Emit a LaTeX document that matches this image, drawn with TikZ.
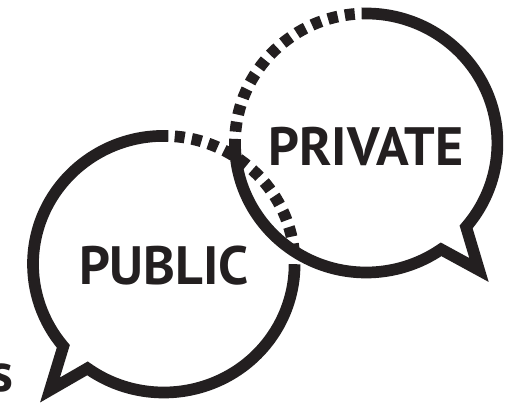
\documentclass[tikz,border=0pt]{standalone}
\usepackage{fontspec}
\setmainfont{PT Sans}
\definecolor{ink}{HTML}{231F20}
\tikzset{
  solidline/.style={draw=ink,line width=11.7pt,line join=miter,miter limit=20},
  dotline/.style={draw=ink,line width=11.7pt,dash pattern=on 10pt off 7.2pt},
  word/.style={text=ink,font=\fontsize{54}{54}\selectfont\bfseries,inner sep=0pt}
}
\begin{document}
\begin{tikzpicture}[x=1pt,y=1pt]
\useasboundingbox (0,0) rectangle (516,404);
\clip (0,0) rectangle (516,404);
\fill[white] (0,0) rectangle (516,404);
\coordinate (pc) at (163.8,139.8);
\coordinate (vc) at (366.2,261);
\coordinate (ptip) at (50,14);
\coordinate (vtip) at (479,134);
% public bubble
\draw[solidline] ([shift={(88:130.8 and 128.3)}]pc) arc[start angle=88,end angle=219.8,x radius=130.8,y radius=128.3]
  -- (ptip) -- ([shift={(234.3:130.8 and 128.3)}]pc) arc[start angle=234.3,end angle=360,x radius=130.8,y radius=128.3];
\draw[dotline] ([shift={(85.2:130.8 and 128.3)}]pc) arc[start angle=85.2,end angle=3,x radius=130.8,y radius=128.3];
% private bubble
\draw[solidline] ([shift={(180:131.2 and 129.5)}]vc) arc[start angle=180,end angle=304.8,x radius=131.2,y radius=129.5]
  -- (vtip) -- ([shift={(-40.4:131.2 and 129.5)}]vc) arc[start angle=-40.4,end angle=92,x radius=131.2,y radius=129.5];
\draw[dotline] ([shift={(95:131.2 and 129.5)}]vc) arc[start angle=95,end angle=180,x radius=131.2,y radius=129.5];
\node[word] (pub) at (164,138) {PUBLIC};
\node[word] (pri) at (366,258) {PRIVATE};
\node[word,anchor=east] (s) at (13,26) {s};
\end{tikzpicture}
\end{document}
